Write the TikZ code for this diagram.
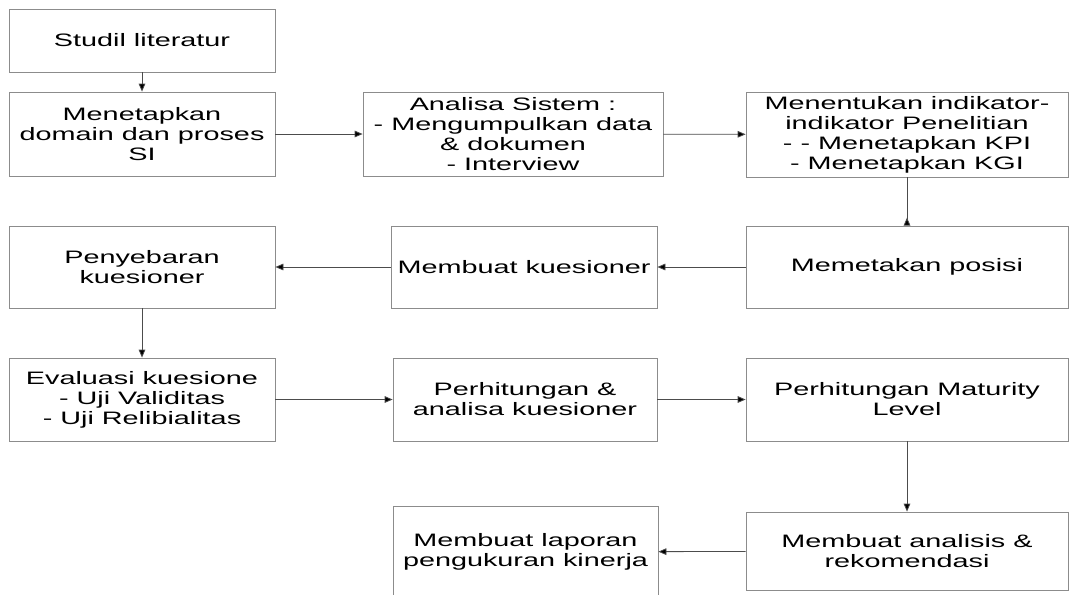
\documentclass[tikz,border=0pt]{standalone}
\usepackage{fontspec}
\setmainfont{Liberation Sans}[FakeStretch=1.6]
\usepackage{tikz}
\usetikzlibrary{arrows.meta,shapes,positioning,calc}

\begin{document}
\begin{tikzpicture}[x=0.75pt,y=-0.75pt]
    \useasboundingbox (0,0) rectangle (1070,594);
    \clip (0,0) rectangle (1070,594);

    \tikzset{every node/.style={draw=gray!90,line width=0.6pt,rectangle,inner sep=0pt,align=center,
            font=\fontsize{13.5pt}{15pt}\selectfont},
        panah/.style={draw=black!70,line width=0.6pt,-{Triangle[length=6pt,width=5pt,fill=black]}}}
    \node[minimum width=199.5pt,minimum height=47.25pt] at (142,40.5) (studi) {Studil literatur};
    \node[minimum width=199.5pt,minimum height=63pt  ] at (142,134 ) (domain) {Menetapkan\\domain dan proses\\SI};
    \node[minimum width=225pt  ,minimum height=63pt  ] at (513,134 ) (analisa) {Analisa Sistem :\\- Mengumpulkan data\\\& dokumen\\- Interview};
    \node[minimum width=241.5pt,minimum height=63.75pt] at (907,134.5) (indikator) {Menentukan indikator-\\indikator Penelitian\\- - Menetapkan KPI\\- Menetapkan KGI};

    \node[minimum width=241.5pt,minimum height=61.5pt] at (907,267) (posisi) {Memetakan posisi};
    \node[minimum width=199.5pt,minimum height=61.5pt] at (524,267) (kuesioner) {Membuat kuesioner};
    \node[minimum width=199.5pt,minimum height=61.5pt] at (142,267) (sebar) {Penyebaran\\kuesioner};

    \node[minimum width=199.5pt,minimum height=62.25pt] at (142,399.5) (evaluasi) {Evaluasi kuesione\\- Uji Validitas\\- Uji Relibialitas};
    \node[minimum width=198pt  ,minimum height=62.25pt] at (525,399.5) (hitung) {Perhitungan \&\\analisa kuesioner};
    \node[minimum width=241.5pt,minimum height=62.25pt] at (907,399.5) (maturity) {Perhitungan Maturity\\Level};

    \node[minimum width=241.5pt,minimum height=58.5pt] at (907,551) (analisis) {Membuat analisis \&\\rekomendasi};
    \node[minimum width=198.75pt,minimum height=69pt ] at (525.5,552) (laporan) {Membuat laporan\\pengukuran kinerja};

    \draw[panah] (studi) -- (domain);
    \draw[panah] (domain) -- (analisa);
    \draw[panah] (analisa) -- (indikator);
    \draw[draw=black!70,line width=0.6pt,-{Triangle[reversed,length=6pt,width=5pt,fill=black]}] (indikator) -- (posisi);
    \draw[panah] (posisi) -- (kuesioner);
    \draw[panah] (kuesioner) -- (sebar);
    \draw[panah] (sebar) -- (evaluasi);
    \draw[panah] (evaluasi) -- (hitung);
    \draw[panah] (hitung) -- (maturity);
    \draw[panah] (maturity) -- (analisis);
    \draw[panah] (analisis) -- (laporan);
\end{tikzpicture}
\end{document}
